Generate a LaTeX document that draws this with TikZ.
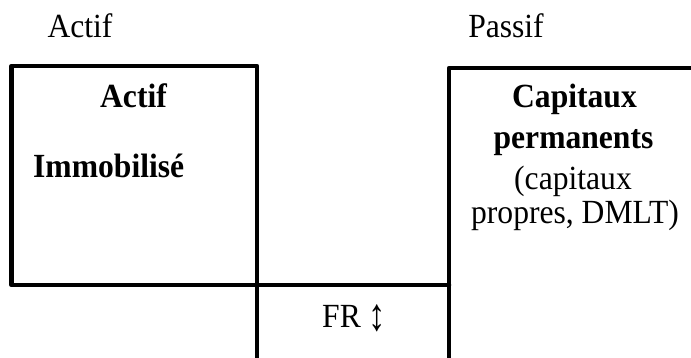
\documentclass[tikz,border=0pt]{standalone}
\usepackage{fontspec}
\setmainfont{Liberation Serif}
\newcommand{\tall}[1]{\scalebox{1}[1.07]{#1}}
\begin{document}
\begin{tikzpicture}[x=1pt,y=-1pt,
  frame/.style={line width=4.5pt,line join=round,line cap=round},
  txt/.style={inner sep=0pt,font=\fontsize{31.6}{37}\selectfont},
  btxt/.style={inner sep=0pt,font=\fontsize{31.6}{37}\selectfont\bfseries}]
\useasboundingbox (0,0) rectangle (691,358);
% coordinates
\coordinate (ltl) at (11.5,66);
\coordinate (lbr) at (257,285);
\coordinate (rb) at (449,365);
\coordinate (rtl) at (449,68);
\coordinate (rtr) at (700,68);
\coordinate (mr) at (449,285);
\coordinate (mb) at (257,365);
% frames
\draw[frame] (ltl) rectangle (lbr);
\draw[frame] (rb) -- (rtl) -- (rtr);
\draw[frame] (lbr) -- (mr);
\draw[frame] (lbr) -- (mb);
% texts
\node[txt,anchor=base] (hA) at (80,38) {\tall{Actif}};
\node[txt,anchor=base] (hP) at (506,38) {\tall{Passif}};
\node[btxt,anchor=base] (a1) at (133.5,108) {\tall{Actif}};
\node[btxt,anchor=base west] (a2) at (33,178) {\tall{Immobilisé}};
\node[btxt,anchor=base] (c1) at (574.5,108) {\tall{Capitaux}};
\node[btxt,anchor=base] (c2) at (573.5,149) {\tall{permanents}};
\node[txt,anchor=base] (c3) at (573,190) {\tall{(capitaux}};
\node[txt,anchor=base] (c4) at (575,224) {\tall{propres, DMLT)}};
\node[txt,anchor=base west] (fr) at (322,327) {\tall{FR} \raisebox{-3pt}{\scalebox{1.1}[1.45]{↕}}};
\end{tikzpicture}
\end{document}
